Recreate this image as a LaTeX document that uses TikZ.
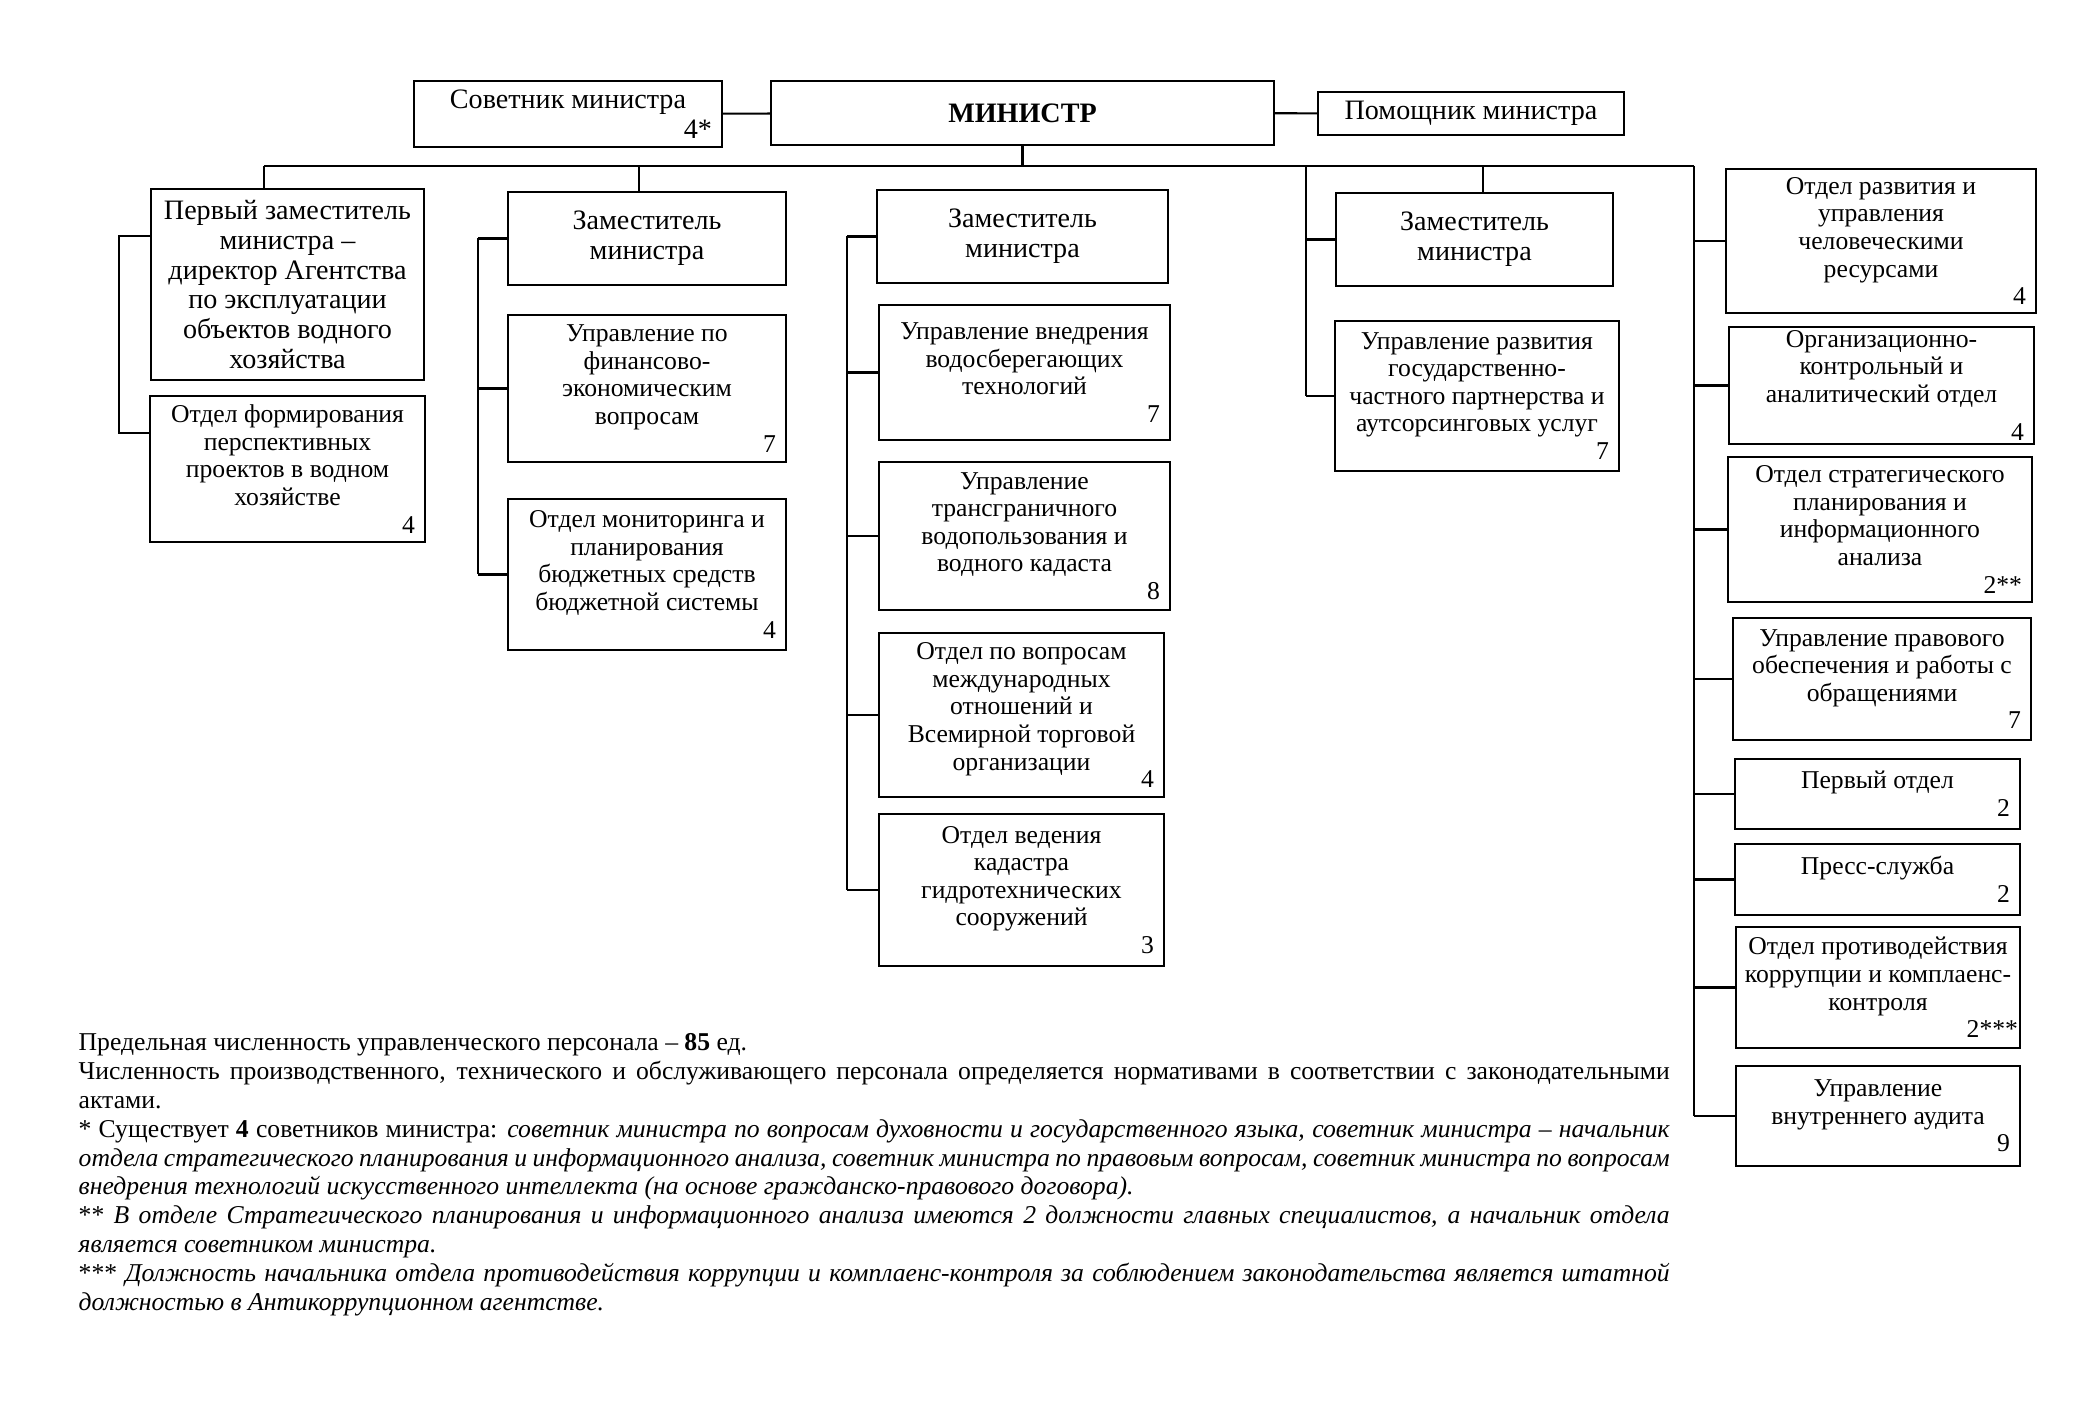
\documentclass[tikz,border=0pt]{standalone}
\usepackage{fontspec}
\setmainfont{Liberation Serif}
\usetikzlibrary{positioning}
\setlength{\parindent}{0pt}
\newcommand{\fhead}{\fontsize{8}{8.5}\selectfont}
\newcommand{\funit}{\fontsize{7.3}{7.85}\selectfont}
\newcommand{\fnote}{\fontsize{7.3}{8.2}\selectfont}
\newcommand{\staff}[1]{\\\hspace*{\fill}#1}
\tikzset{
    head/.style = {rectangle, draw=black, line width=0.7pt, align=flush center, inner xsep=0.1cm, inner ysep=0.02cm, font=\fhead},
    unit/.style = {rectangle, draw=black, line width=0.7pt, align=flush center, inner xsep=0.1cm, inner ysep=0.02cm, font=\funit},
    link/.style = {line width=0.6pt},
}
\begin{document}
\begin{tikzpicture}
  \useasboundingbox (0,0) rectangle (21,-14.09);

  % top row
  \node[head, text width=2.88cm, minimum height=0.66cm] (sov) at (5.68,-1.14) {Советник министра\staff{4*}};
  \node[head, minimum width=5.03cm, minimum height=0.64cm] (min) at (10.225,-1.13) {\textbf{МИНИСТР}};
  \node[head, minimum width=3.06cm, minimum height=0.43cm] (pom) at (14.71,-1.135) {Помощник министра};

  % deputies
  \node[head, text width=2.53cm, minimum height=1.91cm] (dep1) at (2.875,-2.845) {Первый заместитель\\министра --\\директор Агентства\\по эксплуатации\\объектов водного\\хозяйства};
  \node[head, text width=2.58cm, minimum height=0.93cm] (dep2) at (6.47,-2.385) {Заместитель\\министра};
  \node[head, text width=2.71cm, minimum height=0.93cm] (dep3) at (10.225,-2.365) {Заместитель\\министра};
  \node[head, text width=2.57cm, minimum height=0.93cm] (dep4) at (14.745,-2.395) {Заместитель\\министра};

  % column units
  \node[unit, text width=2.55cm, minimum height=1.46cm] (dep1u) at (2.875,-4.69) {Отдел формирования\\перспективных\\проектов в водном\\хозяйстве\staff{4}};
  \node[unit, text width=2.58cm, minimum height=1.47cm] (fin) at (6.47,-3.885) {Управление по\\финансово-\\экономическим\\вопросам\staff{7}};
  \node[unit, text width=2.58cm, minimum height=1.51cm] (mon) at (6.47,-5.745) {Отдел мониторинга и\\планирования\\бюджетных средств\\бюджетной системы\staff{4}};
  \node[unit, text width=2.71cm, minimum height=1.35cm] (u31) at (10.245,-3.725) {Управление внедрения\\водосберегающих\\технологий\staff{7}};
  \node[unit, text width=2.71cm, minimum height=1.48cm] (u32) at (10.245,-5.36) {Управление\\трансграничного\\водопользования и\\водного кадаста\staff{8}};
  \node[unit, text width=2.65cm, minimum height=1.64cm] (u33) at (10.215,-7.15) {Отдел по вопросам\\международных\\отношений и\\Всемирной торговой\\организации\\[-3pt]\hspace*{\fill}4};
  \node[unit, text width=2.65cm, minimum height=1.52cm] (u34) at (10.215,-8.90) {Отдел ведения\\кадастра\\гидротехнических\\сооружений\staff{3}};
  \node[unit, text width=2.64cm, minimum height=1.50cm] (u41) at (14.77,-3.96) {Управление развития\\государственно-\\частного партнерства и\\аутсорсинговых услуг\staff{7}};

  % right column
  \node[unit, text width=2.90cm, minimum height=1.44cm] (r1) at (18.81,-2.41) {Отдел развития и\\управления\\человеческими\\ресурсами\staff{4}};
  \node[unit, text width=2.85cm, minimum height=1.17cm] (r2) at (18.815,-3.855) {Организационно-\\контрольный и\\аналитический отдел\\[3pt]\hspace*{\fill}4};
  \node[unit, text width=2.84cm, minimum height=1.45cm] (r3) at (18.80,-5.295) {Отдел стратегического\\планирования и\\информационного\\анализа\staff{2**}};
  \node[unit, text width=2.78cm, minimum height=1.22cm] (r4) at (18.82,-6.79) {Управление правового\\обеспечения и работы с\\обращениями\staff{7}};
  \node[unit, text width=2.65cm, minimum height=0.70cm] (r5) at (18.775,-7.94) {Первый отдел\staff{2}};
  \node[unit, text width=2.65cm, minimum height=0.71cm] (r6) at (18.775,-8.795) {Пресс-служба\staff{2}};
  \node[unit, text width=2.80cm, inner xsep=0.02cm, minimum height=1.21cm] (r7) at (18.78,-9.875) {Отдел противодействия\\коррупции и комплаенс-\\контроля\\\hspace*{\fill}2***\hspace{0.08cm}};
  \node[unit, text width=2.64cm, minimum height=1.00cm] (r8) at (18.78,-11.16) {Управление\\внутреннего аудита\staff{9}};

  % bus taps and spines
  \coordinate (t1) at (2.64,-1.66);
  \coordinate (t2) at (6.39,-1.66);
  \coordinate (t4) at (13.06,-1.66);
  \coordinate (t5) at (14.83,-1.66);
  \coordinate (tR) at (16.94,-1.66);
  \coordinate (s1) at (1.19,0);
  \coordinate (s2) at (4.78,0);
  \coordinate (s3) at (8.47,0);
  \coordinate (c1a) at ([yshift=-4.8mm]dep1.north west);
  \coordinate (c1b) at ([yshift=-3.8mm]dep1u.north west);

  \draw[link] (sov) -- (min);
  \draw[link] (min) -- (pom);
  \draw[link] (min.south) -- (min.south |- t1);
  \draw[link] (t1) -- (tR);
  \draw[link] (t1) -- (t1 |- dep1.north);
  \draw[link] (t2) -- (t2 |- dep2.north);
  \draw[link] (t5) -- (t5 |- dep4.north);

  \draw[link] (c1a) -- (c1a -| s1) |- (c1b);
  \draw[link] (s2 |- dep2.west) -- (s2 |- mon.west);
  \foreach \n in {dep2,fin,mon}
    \draw[link] (s2 |- \n.west) -- (\n.west);
  \draw[link] (s3 |- dep3.west) -- (s3 |- u34.west);
  \foreach \n in {dep3,u31,u32,u33,u34}
    \draw[link] (s3 |- \n.west) -- (\n.west);
  \draw[link] (t4) -- (t4 |- u41.west);
  \foreach \n in {dep4,u41}
    \draw[link] (t4 |- \n.west) -- (\n.west);
  \draw[link] (tR) -- (tR |- r8.west);
  \foreach \n in {r1,r2,r3,r4,r5,r6,r7,r8}
    \draw[link] (tR |- \n.west) -- (\n.west);

  % notes
  \node[anchor=north west, inner sep=0pt, text width=15.91cm, align=justify, font=\fnote] (note) at (0.78,-10.33)
  {Предельная численность управленческого персонала -- \textbf{85} ед.\par
   Численность производственного, технического и обслуживающего персонала определяется нормативами в соответствии с законодательными\linebreak актами.\par
   * Существует \textbf{4} советников министра: \textit{советник министра по вопросам духовности и государственного языка, советник министра -- начальник\linebreak отдела стратегического планирования и информационного анализа, советник министра по правовым вопросам, советник министра по вопросам\linebreak внедрения технологий искусственного интеллекта (на основе гражданско-правового договора).}\par
   ** \textit{В отделе Стратегического планирования и информационного анализа имеются 2 должности главных специалистов, а начальник отдела\linebreak является советником министра.}\par
   *** \textit{Должность начальника отдела противодействия коррупции и комплаенс-контроля за соблюдением законодательства является штатной\linebreak должностью в Антикоррупционном агентстве.}\par};
\end{tikzpicture}
\end{document}
